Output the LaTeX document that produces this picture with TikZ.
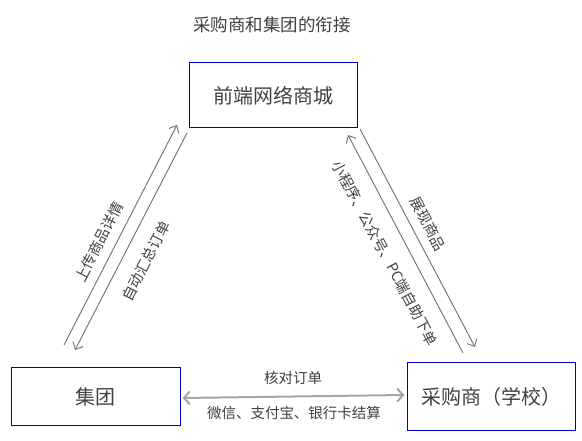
\documentclass[tikz,border=0pt]{standalone}
\usepackage{fontspec}
\setmainfont{Noto Sans CJK SC}
\usetikzlibrary{arrows.meta}
\definecolor{txt}{RGB}{64,64,64}
\definecolor{boxblue}{RGB}{0,0,200}
\definecolor{arr}{RGB}{110,110,110}
\definecolor{arrlight}{RGB}{165,165,165}
\tikzset{
  box/.style={draw=boxblue, line width=1pt, text=txt, font=\fontsize{20}{22}\selectfont, inner sep=0pt},
  lbl/.style={text=txt, font=\fontsize{14.5}{16}\selectfont, inner sep=0pt},
  diag/.style={draw=arr, line width=0.9pt, -{Straight Barb[length=6pt,width=11pt]}},
  horiz/.style={draw=arrlight, line width=2pt, {Straight Barb[length=6pt,width=13pt]}-{Straight Barb[length=6pt,width=13pt]}},
}
\begin{document}
\begin{tikzpicture}[x=1pt,y=-1pt]
\useasboundingbox (0,0) rectangle (582,441);
\node[text=txt, font=\fontsize{17.5}{20}\selectfont, inner sep=0pt] (title) at (272,25) {采购商和集团的衔接};
\node[box, minimum width=168pt, minimum height=65pt] (mall) at (273,95.5) {前端网络商城};
\node[box, minimum width=169pt, minimum height=57pt] (group) at (95.5,396.5) {集团};
\node[box, minimum width=168pt, minimum height=67pt] (buyer) at (491,396.5) {采购商（学校）};
% left diagonal arrows
\coordinate (l1s) at (64,345);
\coordinate (l1e) at (177,125);
\coordinate (l2s) at (187,133);
\coordinate (l2e) at (75,350);
\draw[diag] (l1s) -- (l1e);
\draw[diag] (l2s) -- (l2e);
% right diagonal arrows
\coordinate (r1s) at (463,353);
\coordinate (r1e) at (348,135);
\coordinate (r2s) at (360,129);
\coordinate (r2e) at (475,347);
\draw[diag] (r1s) -- (r1e);
\draw[diag] (r2s) -- (r2e);
% bottom arrow
\draw[horiz] (group.east) ++(2,1.5) coordinate (bs) -- ([xshift=-2pt,yshift=1.5pt]buyer.west);
% labels
\node[lbl, rotate=62.8] (up) at (99,242) {上传商品详情};
\node[lbl, rotate=62.8] (auto) at (146,261) {自动汇总订单};
\node[lbl, rotate=-62] (order) at (385,253) {小程序、公众号、PC端自助下单};
\node[lbl, rotate=-62] (show) at (428,224) {展现商品};
\node[lbl] (check) at (293,378) {核对订单};
\node[lbl] (pay) at (294,413) {微信、支付宝、银行卡结算};
\end{tikzpicture}
\end{document}
